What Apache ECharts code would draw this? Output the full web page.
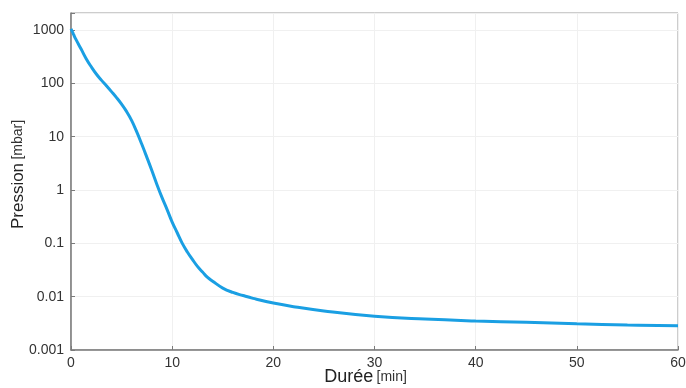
<!DOCTYPE html>
<html>
<head>
<meta charset="utf-8">
<script src="https://cdn.jsdelivr.net/npm/echarts@6/dist/echarts.min.js"></script>
<style>
html,body{margin:0;padding:0;background:#fff;}
#chart{width:686px;height:388px;}
</style>
</head>
<body>
<div id="chart"></div>
<script>
// Duration in minutes
var durationMin = [0, 0.25, 0.5, 1, 1.5, 2, 2.5, 3, 3.5, 4, 4.5, 5, 5.5, 6, 6.5, 7, 7.5, 8, 8.5, 9, 9.5, 10, 10.5, 11, 11.5, 12, 12.5, 13, 13.5, 14, 15, 16, 17, 18, 20, 22, 25, 30, 35, 40, 45, 50, 55, 60];
// Pressure in mbar
var pressureMbar = [1050, 830, 660, 440, 290, 205, 150, 115, 90, 70, 54, 40.7, 29.5, 20, 12.3, 7.2, 4.1, 2.3, 1.26, 0.72, 0.43, 0.25, 0.158, 0.1, 0.069, 0.05, 0.037, 0.029, 0.023, 0.0195, 0.0145, 0.012, 0.0105, 0.0093, 0.0076, 0.0065, 0.0054, 0.0043, 0.0038, 0.0035, 0.0033, 0.0031, 0.00295, 0.00285];
// Y tick labels (decades)
var yTickLabels = {'-3': '0.001', '-2': '0.01', '-1': '0.1', '0': '1', '1': '10', '2': '100', '3': '1000'};
var xTicks = {min: 0, max: 60, interval: 10};

var seriesData = durationMin.map(function (t, i) { return [t, Math.log10(pressureMbar[i])]; });

var chart = echarts.init(document.getElementById('chart'));
chart.setOption({
  animation: false,
  backgroundColor: '#ffffff',
  grid: {left: 71, right: 8, top: 13, bottom: 38, show: true, borderColor: '#9a9a9a', borderWidth: 1, containLabel: false, outerBoundsMode: 'none'},
  xAxis: {
    type: 'value', min: xTicks.min, max: xTicks.max, interval: xTicks.interval,
    axisLine: {show: true, onZero: false, lineStyle: {color: '#7a7a7a', width: 1.5}},
    axisTick: {show: true, inside: true, length: 4, lineStyle: {color: '#7a7a7a'}},
    axisLabel: {color: '#333', fontSize: 14, fontFamily: 'Liberation Sans, Arial', margin: 6},
    splitLine: {show: true, lineStyle: {color: '#f0f0f0', width: 1}},
    name: '{a|Durée} {b|[min]}',
    nameLocation: 'middle', nameGap: 18, nameMoveOverlap: false,
    nameTextStyle: {
      padding: [0, 18, 0, 0],
      rich: {
        a: {fontSize: 18, color: '#222', fontFamily: 'Liberation Sans, Arial'},
        b: {fontSize: 14, color: '#333', fontFamily: 'Liberation Sans, Arial'}
      }
    }
  },
  yAxis: {
    type: 'value', min: -3, max: 3.32, interval: 1,
    axisLine: {show: true, onZero: false, lineStyle: {color: '#7a7a7a', width: 1.5}},
    axisTick: {show: true, inside: true, length: 4, lineStyle: {color: '#7a7a7a'}},
    axisLabel: {
      color: '#333', fontSize: 14, fontFamily: 'Liberation Sans, Arial', margin: 7,
      formatter: function (v) {
        var r = Math.round(v);
        if (Math.abs(v - r) > 1e-6) return '';
        return yTickLabels[String(r)] || '';
      }
    },
    splitLine: {show: true, lineStyle: {color: '#f0f0f0', width: 1}},
    name: '{a|Pression} {b|[mbar]}',
    nameLocation: 'middle', nameGap: 44, nameRotate: 90, nameMoveOverlap: false,
    nameTextStyle: {
      padding: [0, 0, 0, 14],
      rich: {
        a: {fontSize: 17, color: '#222', fontFamily: 'Liberation Sans, Arial'},
        b: {fontSize: 14, color: '#333', fontFamily: 'Liberation Sans, Arial'}
      }
    }
  },
  series: [{
    type: 'line',
    data: seriesData,
    smooth: 0.45,
    showSymbol: false,
    lineStyle: {color: '#1a9fe3', width: 3},
    clip: true
  }]
});
</script>
</body>
</html>
